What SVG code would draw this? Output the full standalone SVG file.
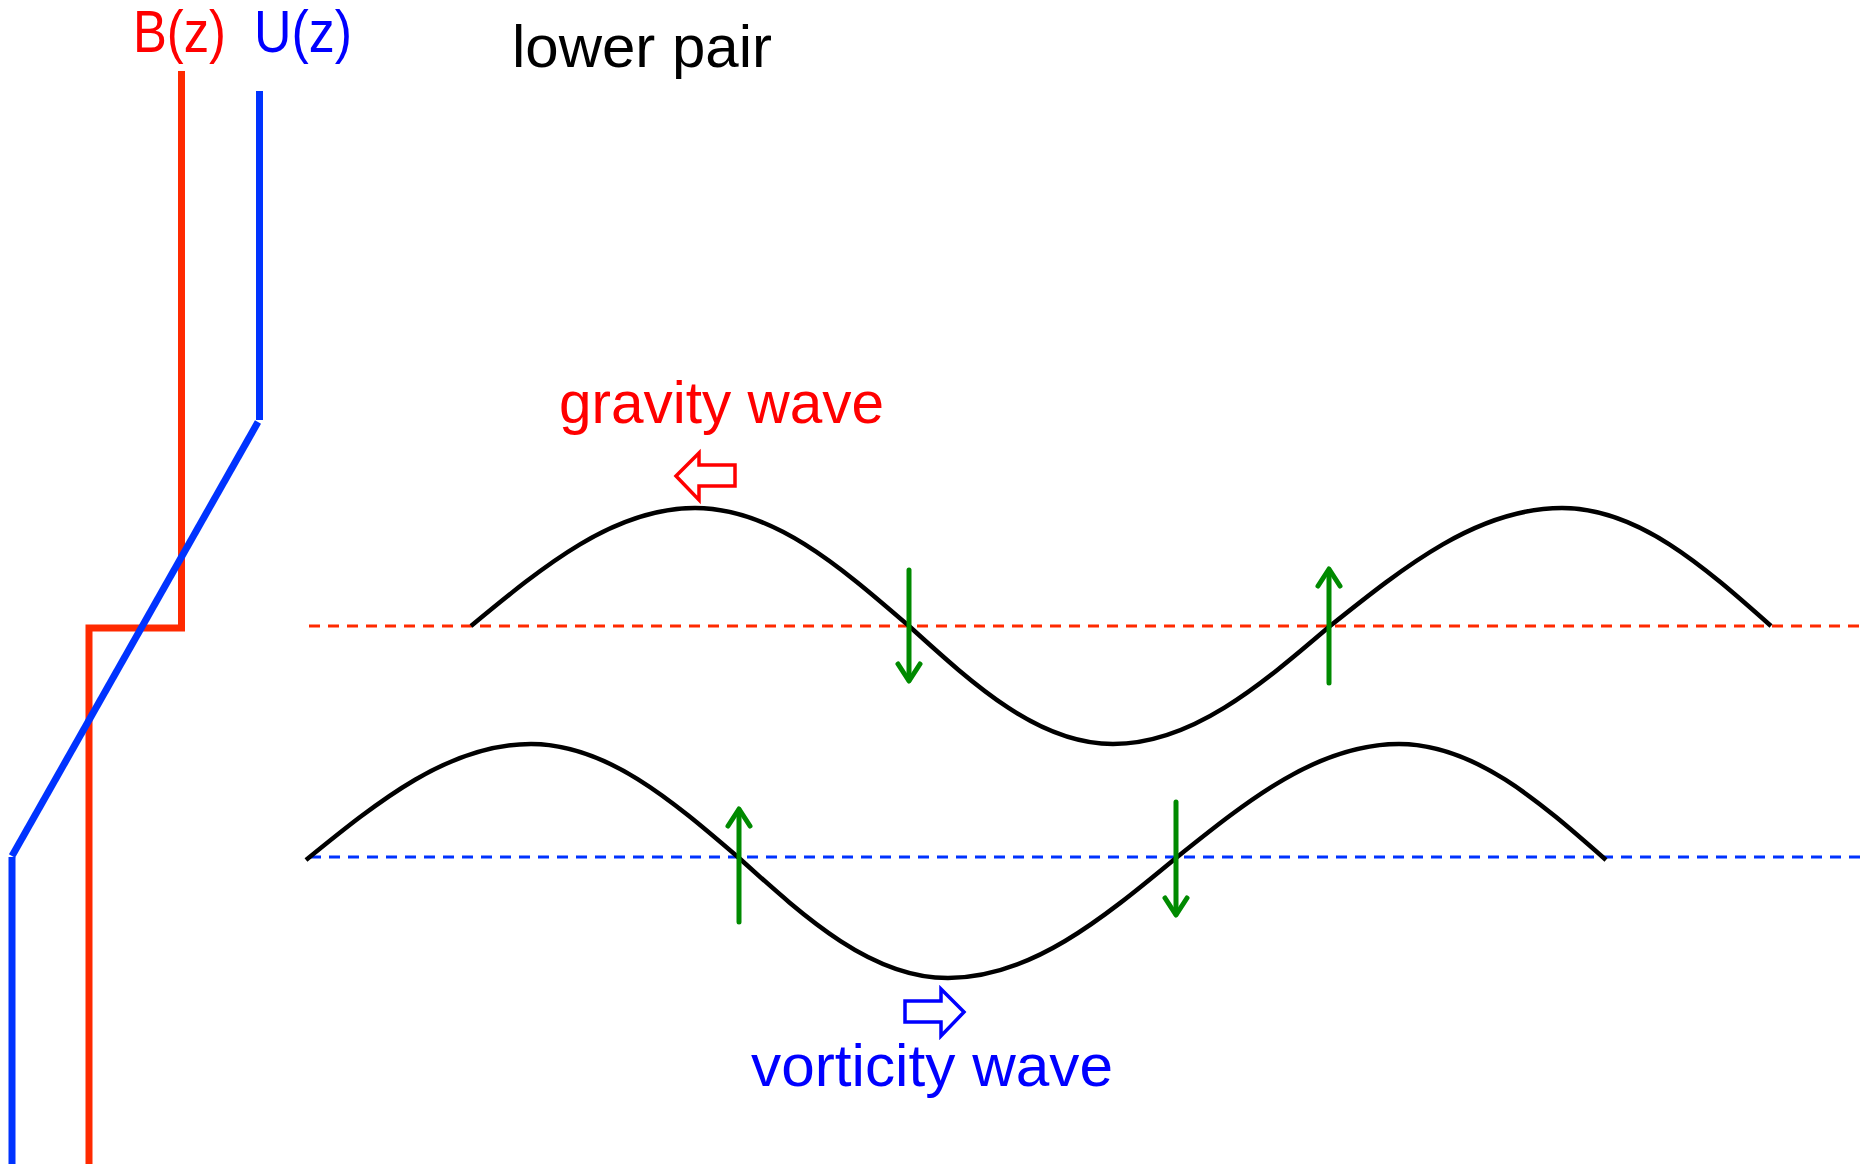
<svg xmlns="http://www.w3.org/2000/svg" width="1860" height="1164" viewBox="0 0 1860 1164">
<style>
text{font-family:"Liberation Sans",Arial,sans-serif;font-size:60px}
.prof{fill:none;stroke-width:7;stroke-linejoin:miter}
.dash{fill:none;stroke-width:3;stroke-dasharray:11 8}
.wave{fill:none;stroke:#000;stroke-width:4.5}
.green{fill:none;stroke:#008A00;stroke-width:5;stroke-linecap:round;stroke-linejoin:round}
.hollow{fill:#fff;stroke-width:3.5}
</style>
<rect width="1860" height="1164" fill="#fff"/>
<g id="labels">
<text x="133" y="52" fill="#FF0000" textLength="93" lengthAdjust="spacingAndGlyphs">B(z)</text>
<text x="254" y="52" fill="#0000FF" textLength="98" lengthAdjust="spacingAndGlyphs">U(z)</text>
<text x="512" y="67" fill="#000" textLength="260" lengthAdjust="spacingAndGlyphs">lower pair</text>
</g>
<g id="profile-B">
<polyline class="prof" stroke="#FF2A00" points="181.5,71 181.5,628 89,628 89,1164"/>
</g>
<g id="profile-U">
<polyline class="prof" stroke="#0033FF" points="259.5,91 259.5,420"/>
<line class="prof" stroke="#0033FF" x1="258" y1="422" x2="12" y2="856"/>
<line class="prof" stroke="#0033FF" x1="12" y1="857" x2="12" y2="1164"/>
</g>
<g id="mean-levels">
<line class="dash" stroke="#FF2A00" x1="309" y1="626" x2="1860" y2="626"/>
<line class="dash" stroke="#0033FF" x1="310" y1="857" x2="1860" y2="857"/>
</g>
<g id="upper-wave">
<path class="wave" d="M471,626 C544,565.6 614,508 695,508 C772.5,508 839,565.6 909,626 C975.5,686.4 1039,744 1113,744 C1191.6,744 1259.3,686.4 1330,626 C1405.6,565.6 1478,508 1562,508 C1637.7,508 1702.9,565.6 1771,626"/>
</g>
<g id="lower-wave">
<path class="wave" d="M306,860 C379,800.6 449,744 531,744 C606,744 671,799.6 739,858 C807,919.4 872,978 948,978 C1030.5,978 1101.7,919.4 1176,858 C1248.7,799.6 1318.3,744 1399,744 C1473.9,744 1538.5,800.6 1606,860"/>
</g>
<g id="connectors">
<g id="arrow-down-1"><line class="green" x1="909" y1="570" x2="909" y2="680"/><polyline class="green" points="898,664 909,681 920,664"/></g>
<g id="arrow-up-1"><line class="green" x1="1329" y1="571" x2="1329" y2="683"/><polyline class="green" points="1318,586 1329,569 1340,586"/></g>
<g id="arrow-up-2"><line class="green" x1="739" y1="810" x2="739" y2="922"/><polyline class="green" points="728,826 739,809 750,826"/></g>
<g id="arrow-down-2"><line class="green" x1="1176" y1="802" x2="1176" y2="914"/><polyline class="green" points="1165,898 1176,915 1187,898"/></g>
</g>
<g id="gravity-arrow">
<polygon class="hollow" stroke="#FF0000" points="676,476 699,453 699,465 735,465 735,486 699,486 699,500"/>
</g>
<g id="vorticity-arrow">
<polygon class="hollow" stroke="#0000FF" points="964,1012 941,989 941,1001 905,1001 905,1022 941,1022 941,1036"/>
</g>
<g id="wave-labels">
<text x="559" y="423" fill="#FF0000" textLength="325" lengthAdjust="spacingAndGlyphs">gravity wave</text>
<text x="751" y="1086" fill="#0000FF" textLength="362" lengthAdjust="spacingAndGlyphs">vorticity wave</text>
</g>
</svg>
